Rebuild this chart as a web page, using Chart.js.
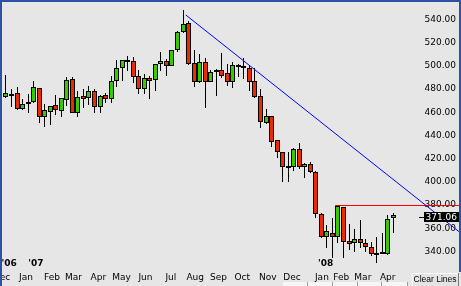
<!DOCTYPE html>
<html>
<head>
<meta charset="utf-8">
<script src="https://cdn.jsdelivr.net/npm/chart.js@4.4.0/dist/chart.umd.min.js"></script>
<style>
html, body { margin: 0; padding: 0; background: #e6e6e6; overflow: hidden; }
canvas { display: block; }
</style>
</head>
<body>
<canvas id="PriceChart" width="461" height="286"></canvas>
<script>
// weekly candles, week 0 = first week of Dec 2006
const opens = [473.5,475,476.4,462.6,468.3,469.2,480.7,456.2,460,466.3,
    461.4,470.6,488.4,459.1,474.3,472,478.1,464.9,474.6,471.2,
    486.7,497.9,504.2,504.2,491.3,479.8,489.3,487.8,501.3,504.2,
    500.2,513.7,528.9,536.7,502.2,486.4,503,486.4,494.5,496.5,
    493.8,485.8,500.2,500,498,487,474,450.5,456.8,436.1,
    425.5,413.1,413.1,428.4,412.6,415.2,408.8,372.3,352.8,355.7,
    352.8,378.1,349,347,350.5,347.6,343.6,336.8,338.5,337.6,
    368.5];
const highs = [492,479.8,481.5,471.2,475.5,487,480.9,467.2,465.6,475,
    472.2,490.7,490.7,478.4,479.8,482.7,479.8,474.5,476.4,491.3,
    505.1,505.3,508.5,507.4,496.5,493,491.3,501.5,512.3,505.6,
    513.9,530.1,548.2,538.7,513.7,510.2,506.6,496.5,497.3,511.4,
    501.3,503,502,506.6,500.7,498,479.8,463.1,457,436.3,
    425.7,425.5,429.5,433.3,416,417.4,409,373.5,362.8,368.6,
    379.2,378.3,363.4,359.1,367.2,350.5,348.4,352.8,355.7,371.4,
    373.5];
const lows = [472,464.9,462,462.2,459.1,467.8,450.5,447.6,449,457.7,
    456.2,465.4,459.5,455.7,463.4,466.3,459.1,459.7,467.8,468.3,
    481.5,487,495.6,485.5,475.8,475.8,471.8,478.6,495.9,491.6,
    500,512.3,528.1,501.1,481.5,485,464,486.2,474.3,489.6,
    483,481.2,490.1,488.5,478.6,472,446.2,450.3,430.4,420.3,
    400.2,400.2,409.4,411,403.6,407.4,368.6,351.4,342.8,334.1,
    347.6,334.1,341.3,339.8,342.8,339.8,336.1,330.3,338,337.4,
    356];
const closes = [476.4,475,462.6,466.9,468.3,481.5,455.7,462,465.4,462,
    472,487.8,459.7,473.5,471.2,478.1,464.3,474.3,471.2,487,
    497.9,505.1,504.2,490.7,479.8,489.3,487.3,501.3,504.2,500.2,
    513.7,528.9,536.1,501.3,486.4,503,486.4,494.5,496.5,491.6,
    485.8,500.7,500.2,498,486.4,473.5,451.4,456.8,434.7,425.5,
    412.6,413.1,428.4,413.1,415.2,408.8,372.3,352.2,357.7,352.8,
    379.2,348.4,346.2,350.5,347,343.6,337.6,338.9,338.5,367.8,
    371.06];

// drawn lines (week, price)
const trendX = [32.5, 82.2];
const trendY = [543.9, 355.9];
const resistX = [59.5, 82.2];
const resistY = [379.67, 379.67];

const priceTicks = [340, 360, 380, 400, 420, 440, 460, 480, 500, 520, 540];
const monthLabels = ['Dec','Jan','Feb','Mar','Apr','May','Jun','Jul','Aug','Sep','Oct','Nov','Dec','Jan','Feb','Mar','Apr'];
const monthPos = [-0.8, 3.6, 8.3, 12.2, 16.7, 20.9, 25.2, 29.8, 34.2, 38.4, 42.7, 47.3, 51.7, 57.1, 60.6, 64.5, 69];
const yearLabels = ["'06", "'07", "'08"];
const yearPos = [-0.8, 4, 56.4];

const UP = '#33cc00', DOWN = '#ee2a00';

const bodies = opens.map(function(o, i){
    const c = closes[i];
    let lo = Math.min(o, c), hi = Math.max(o, c);
    if (hi - lo < 1.6) {
        const m = (hi + lo) / 2;
        lo = m - 0.8; hi = m + 0.8;
    }
    return {x: i, y: [lo, hi]};
});
const bodyColors = opens.map(function(o, i){
    if (closes[i] > o) return UP;
    if (closes[i] < o) return DOWN;
    return '#000000';
});
const wicks = lows.map(function(l, i){ return {x: i, y: [l, highs[i]]}; });

// snap candles and the flat line onto whole pixels so they draw crisp
const snapMarks = {
    id: 'snapMarks',
    beforeDatasetsDraw: function(chart){
        chart.data.datasets.forEach(function(ds, di){
            const meta = chart.getDatasetMeta(di);
            if (meta.type === 'bar') {
                meta.data.forEach(function(el){
                    el.x = Math.floor(el.x) + 0.5;
                    el.y = Math.round(el.y);
                    el.base = Math.round(el.base);
                    if (Math.abs(el.base - el.y) < 2) el.base = el.y + 2;
                });
            } else if (ds.flat) {
                meta.data.forEach(function(pt){ pt.y = Math.floor(pt.y) + 0.5; });
            }
        });
    }
};

const decorations = {
    id: 'decorations',
    afterDatasetsDraw: function(chart){
        const ctx = chart.ctx, xs = chart.scales.x, ys = chart.scales.y;
        ctx.save();
        ctx.fillStyle = '#000';
        ctx.textBaseline = 'alphabetic';
        ctx.textAlign = 'center';
        ctx.font = '9px "DejaVu Sans"';
        monthLabels.forEach(function(m, i){
            ctx.fillText(m, xs.getPixelForValue(monthPos[i]), 280);
        });
        ctx.textAlign = 'left';
        ctx.font = 'bold 9px "DejaVu Sans"';
        yearLabels.forEach(function(t, i){
            ctx.fillText(t, xs.getPixelForValue(yearPos[i]), 266);
        });

        // last price marker
        const last = closes[closes.length - 1];
        const py = Math.round(ys.getPixelForValue(last)) + 2;
        ctx.fillStyle = '#000';
        ctx.fillRect(419, py, 5, 1);
        ctx.fillRect(424, py - 5, 35, 10);
        ctx.fillStyle = '#fff';
        ctx.font = '9px "DejaVu Sans"';
        ctx.textAlign = 'right';
        ctx.textBaseline = 'middle';
        ctx.fillText(last.toFixed(2), 457, py + 0.5);

        // window frame
        ctx.fillStyle = '#2c52a6';
        ctx.fillRect(0, 0, 461, 2);
        ctx.fillRect(0, 0, 2, 286);
        ctx.fillRect(459, 0, 2, 272);

        // bottom bar + button
        [[283, 307], [308, 332], [333, 357], [358, 381], [382, 407]].forEach(function(s){
            ctx.fillStyle = '#f6f6f6';
            ctx.fillRect(s[0], 282, s[1] - s[0], 4);
            ctx.fillStyle = '#9a9a9a';
            ctx.fillRect(s[1], 282, 1, 4);
        });
        ctx.fillStyle = '#e4e4e4';
        ctx.fillRect(412, 273, 47, 13);
        ctx.fillStyle = '#ffffff';
        ctx.fillRect(412, 273, 47, 1);
        ctx.fillRect(412, 273, 1, 13);
        ctx.fillStyle = '#7a7a7a';
        ctx.fillRect(458, 273, 1, 13);
        ctx.fillStyle = '#000';
        ctx.font = '8.5px "Liberation Sans"';
        ctx.textAlign = 'center';
        ctx.textBaseline = 'alphabetic';
        ctx.fillText('Clear Lines', 435, 282);
        ctx.restore();
    }
};

const ctx = document.getElementById('PriceChart').getContext('2d');
new Chart(ctx, {
    type: 'bar',
    data: {
        datasets: [
            {
                type: 'line',
                data: trendX.map(function(v, i){ return {x: v, y: trendY[i]}; }),
                borderColor: '#0000ff',
                borderWidth: 1,
                pointRadius: 0,
                fill: false,
                clip: false,
                order: 0
            },
            {
                type: 'line',
                flat: true,
                data: resistX.map(function(v, i){ return {x: v, y: resistY[i]}; }),
                borderColor: '#ff0000',
                borderWidth: 1,
                pointRadius: 0,
                fill: false,
                clip: false,
                order: 0
            },
            {
                data: bodies,
                backgroundColor: bodyColors,
                borderColor: '#000000',
                borderWidth: 1,
                borderSkipped: false,
                barThickness: 5,
                inflateAmount: 0,
                grouped: false,
                order: 1
            },
            {
                data: wicks,
                backgroundColor: '#000000',
                borderWidth: 0,
                barThickness: 1,
                inflateAmount: 0,
                grouped: false,
                order: 2
            }
        ]
    },
    options: {
        responsive: false,
        animation: false,
        events: [],
        layout: { padding: { left: 2, top: 3, right: 5, bottom: 18 } },
        plugins: { legend: { display: false }, tooltip: { enabled: false } },
        scales: {
            x: { type: 'linear', display: false, offset: false, min: -0.723, max: 74.47 },
            y: {
                position: 'right',
                min: 325.78,
                max: 554.22,
                beginAtZero: false,
                grid: { display: false, drawTicks: false },
                border: { display: false },
                afterBuildTicks: function(scale){
                    scale.ticks = priceTicks.map(function(v){ return {value: v}; });
                },
                afterFit: function(scale){
                    scale.width = 38;
                    scale.paddingTop = 0;
                    scale.paddingBottom = 0;
                },
                ticks: {
                    padding: 6,
                    crossAlign: 'far',
                    color: '#000',
                    font: { family: 'DejaVu Sans', size: 9 },
                    callback: function(v){ return Number(v).toFixed(2); }
                }
            }
        }
    },
    plugins: [snapMarks, decorations]
});
</script>
</body>
</html>
